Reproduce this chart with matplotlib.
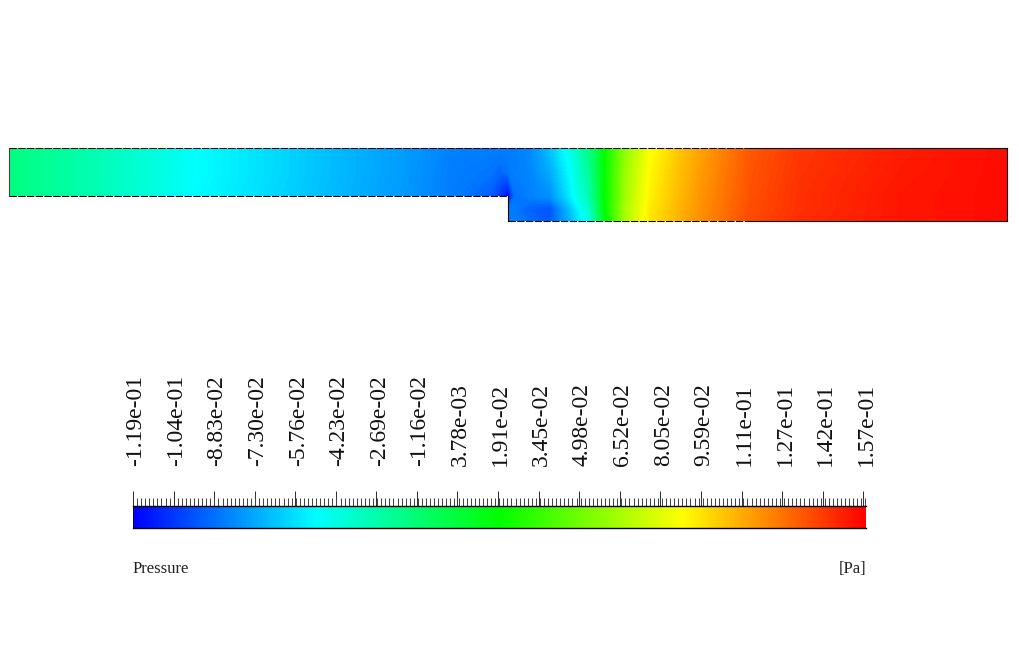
import numpy as np
import matplotlib
matplotlib.use('Agg')
import matplotlib.pyplot as plt
from matplotlib.colors import LinearSegmentedColormap
from matplotlib.ticker import AutoMinorLocator
from matplotlib.transforms import ScaledTranslation

nan = np.nan

# stations along the channel and rows across it, in image pixels
x_stations = [9.5, 100, 200, 300, 400, 450, 490, 500, 508, 515, 530, 550, 570, 590, 605, 625, 650, 680, 700, 750, 800, 900, 1007.5]
y_rows = [148, 172, 196, 209, 221]

# pressure, one list per row
p_row_148 = [-.015, -.030, -.050, -.063, -.076, -.084, -.085, -.085, -.085, -.085, -.082, -.066, -.044, -.016, .0195, .058, .087, .104, .113, .134, .143, .150, .155]
p_row_172 = [-.015, -.030, -.050, -.063, -.076, -.085, -.087, -.091, -.087, -.085, -.083, -.072, -.050, -.020, .0195, .060, .090, .106, .115, .135, .144, .151, .155]
p_row_196 = [-.015, -.030, -.051, -.064, -.077, -.085, -.093, -.105, -.119, -.088, -.084, -.080, -.055, -.026, .0195, .062, .092, .108, .117, .136, .145, .152, .155]
p_row_209 = [nan, nan, nan, nan, nan, nan, nan, nan, -.086, -.086, -.092, -.096, -.066, -.034, .0195, .064, .094, .109, .118, .137, .145, .152, .155]
p_row_221 = [nan, nan, nan, nan, nan, nan, nan, nan, -.085, -.085, -.090, -.095, -.070, -.040, .015, .064, .095, .110, .119, .138, .146, .152, .155]

tick_values = [-.1190, -.1036, -.0883, -.0730, -.0576, -.0423, -.0269, -.0116, .00378, .0191,
               .0345, .0498, .0652, .0805, .0959, .1113, .1266, .1420, .1573]
tick_labels = ['-1.19e-01', '-1.04e-01', '-8.83e-02', '-7.30e-02', '-5.76e-02', '-4.23e-02',
               '-2.69e-02', '-1.16e-02', '3.78e-03', '1.91e-02', '3.45e-02', '4.98e-02',
               '6.52e-02', '8.05e-02', '9.59e-02', '1.11e-01', '1.27e-01', '1.42e-01', '1.57e-01']
p_min = -0.119
p_max = 0.1584

rainbow = LinearSegmentedColormap.from_list('fluent', ['#0000ff', '#00ffff', '#00ff00', '#ffff00', '#ff0000'], N=512)
plt.rcParams['font.family'] = ['Liberation Serif', 'DejaVu Serif']


def draw_field(fig):
  ax = fig.add_axes([0, 0, 1, 1])
  ax.set_xlim(0, 1020)
  ax.set_ylim(664, 0)
  ax.axis('off')

  pressure = np.ma.masked_invalid([p_row_148, p_row_172, p_row_196, p_row_209, p_row_221])
  levels = np.linspace(p_min, p_max, 257)
  ax.contourf(x_stations, y_rows, pressure, levels=levels, cmap=rainbow, extend='both', corner_mask=False)

  # mesh outline: small gaps on the long edges, closes up towards the outlet
  x0, x1, xs = x_stations[0], x_stations[-1], x_stations[8]
  y0, ym, y1 = y_rows[0], y_rows[2], y_rows[-1]
  dashed = dict(color='black', lw=0.75, ls=(0, (7, 1.4)))
  solid = dict(color='black', lw=0.8)
  ax.plot([x0, 750], [y0, y0], **dashed)
  ax.plot([750, x1], [y0, y0], **solid)
  ax.plot([x0, xs], [ym, ym], **dashed)
  ax.plot([xs, 750], [y1, y1], **dashed)
  ax.plot([750, x1], [y1, y1], **solid)
  ax.plot([x0, x0], [y0, ym], color='#444444', lw=0.8)
  ax.plot([xs, xs], [ym, y1], **solid)
  ax.plot([x1, x1], [y0, y1], **solid)


def draw_colorbar(fig):
  ax = fig.add_axes([133 / 1020, 1 - 528 / 664, 733 / 1020, 22 / 664])
  gradient = np.linspace(p_min, p_max, 512)[np.newaxis, :]
  ax.imshow(gradient, cmap=rainbow, aspect='auto', extent=[p_min, p_max, 0, 1])
  ax.set_xlim(p_min, p_max)
  ax.set_yticks([])

  ax.xaxis.tick_top()
  ax.set_xticks(tick_values)
  ax.set_xticklabels(tick_labels, rotation=90, fontsize=17, ha='center', va='bottom', color='#111111')
  ax.xaxis.set_minor_locator(AutoMinorLocator(10))
  ax.tick_params(axis='x', which='major', length=10.8, width=0.75, color='#333333', pad=18)
  ax.tick_params(axis='x', which='minor', top=True, length=5.8, width=0.72, color='#444444')

  # labels sit a little right of their tick
  shift = ScaledTranslation(3 / 100, 0, fig.dpi_scale_trans)
  for label in ax.get_xticklabels():
    label.set_transform(label.get_transform() + shift)

  ax.spines['right'].set_visible(False)
  ax.spines['left'].set_linewidth(0.5)
  ax.spines['top'].set_linewidth(1.0)
  ax.spines['bottom'].set_linewidth(1.0)

  fig.text(133 / 1020, 1 - 569 / 664, 'Pressure', fontsize=12, color='#222222', ha='left', va='center')
  fig.text(866 / 1020, 1 - 569 / 664, '[Pa]', fontsize=12, color='#222222', ha='right', va='center')


def main():
  fig = plt.figure(figsize=(10.2, 6.64), dpi=100)
  draw_field(fig)
  draw_colorbar(fig)
  fig.savefig('out.png', dpi=100)


if __name__ == '__main__':
  main()
